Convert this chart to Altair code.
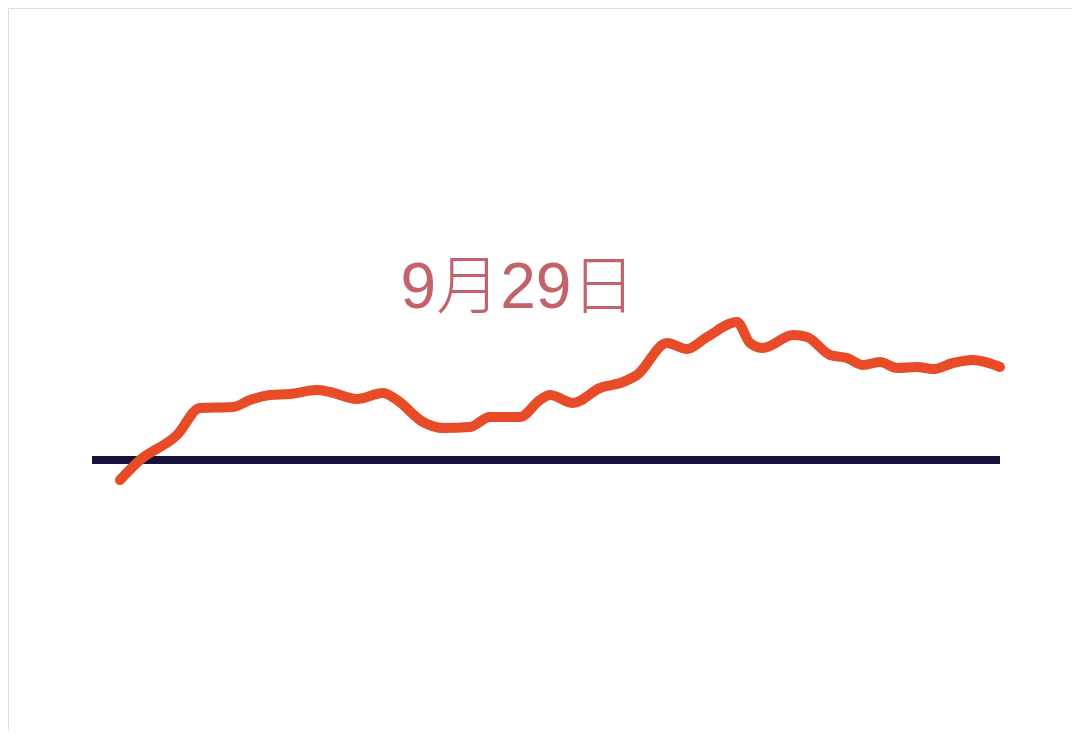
import altair as alt
import pandas as pd

# series: x = time step, y = value relative to the baseline
xs = [0, 20, 57, 80, 113, 130, 150, 170, 197, 210, 237, 263, 277, 303, 323, 350, 370, 400,
      420, 430, 453, 480, 503, 517, 547, 567, 587, 617, 630, 643, 673, 687, 710, 727, 743,
      760, 777, 797, 813, 833, 853, 880]
ys = [-20, 0, 25, 52, 53, 60, 65, 66, 70, 68, 61, 67, 60, 38, 32, 33, 43, 43, 60, 65, 57,
      72, 78, 85, 117, 111, 123, 138, 117, 112, 125, 123, 105, 102, 95, 98, 92, 93, 91, 97,
      100, 93]
label_text = ["9月29日"]

df = pd.DataFrame({"x": xs, "y": ys})
xscale = alt.Scale(domain=[-112, 952], nice=False, zero=False)
yscale = alt.Scale(domain=[-271, 452], nice=False, zero=False)

base_df = pd.DataFrame({"x": [-28], "x2": [880], "y": [0]})
rule = alt.Chart(base_df).mark_rule(color="#15123b", strokeWidth=8, strokeCap="butt").encode(
    x=alt.X("x:Q", scale=xscale, axis=None),
    x2="x2:Q",
    y=alt.Y("y:Q", scale=yscale, axis=None),
)

line = alt.Chart(df).mark_line(
    color="#e84b28", strokeWidth=10, strokeCap="round", strokeJoin="round", interpolate="monotone"
).encode(
    x=alt.X("x:Q", scale=xscale, axis=None),
    y=alt.Y("y:Q", scale=yscale, axis=None),
)

txt_df = pd.DataFrame({"x": [398], "y": [171], "t": label_text})
text = alt.Chart(txt_df).mark_text(
    font="Liberation Sans, Noto Sans CJK SC", fontSize=64, fontWeight=300,
    color="#c2636b", baseline="middle", align="center"
).encode(
    x=alt.X("x:Q", scale=xscale, axis=None),
    y=alt.Y("y:Q", scale=yscale, axis=None),
    text="t:N",
)

chart = alt.layer(rule, line, text).properties(
    width=1064, height=723, padding=0, autosize=alt.AutoSizeParams(type="none")
).configure_view(strokeWidth=0, stroke="transparent").configure(background="white")

chart.save("out.html", embed_options={"renderer": "svg", "actions": False})
